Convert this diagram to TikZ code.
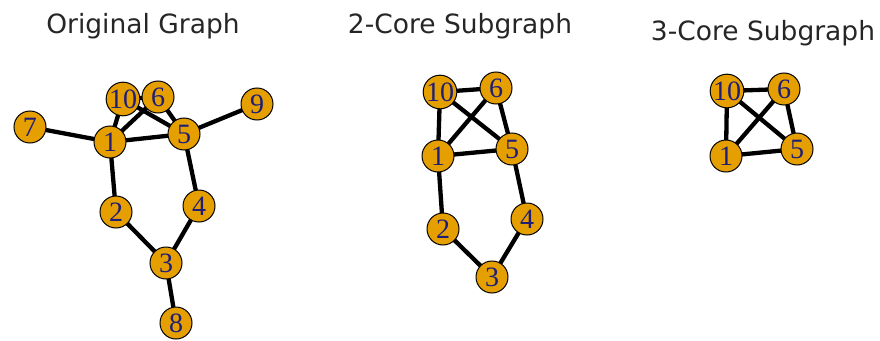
\documentclass[tikz,border=0pt]{standalone}
\usepackage{fontspec}
\setmainfont{Liberation Serif}
\newfontfamily\titlefont{DejaVu Sans}
\definecolor{nodefill}{HTML}{E69F00}
\definecolor{labelblue}{RGB}{30,30,120}
\definecolor{titlegray}{RGB}{38,38,38}
\pgfdeclarelayer{background}
\pgfsetlayers{background,main}
\begin{document}
\begin{tikzpicture}[x=1pt,y=-1pt,
  vtx/.style={circle,draw=black,line width=1pt,fill=nodefill,minimum size=32pt,
    inner sep=0pt,text=labelblue,font=\fontsize{28}{28}\selectfont},
  edge/.style={line width=4.3pt,black},
  heading/.style={anchor=base,text=titlegray,font=\titlefont\fontsize{26.5}{26.5}\selectfont}]
\useasboundingbox (0,0) rectangle (880,340);

% titles
\node[heading] (t1) at (143,33) {Original Graph};
\node[heading] (t2) at (460,33) {2-Core Subgraph};
\node[heading] (t3) at (763,40) {3-Core Subgraph};

% original graph
\node[vtx] (a7) at (30,127) {7};
\node[vtx] (a1) at (110,142) {1};
\node[vtx] (a10) at (123,99) {10};
\node[vtx] (a6) at (158,97) {6};
\node[vtx] (a5) at (184,134) {5};
\node[vtx] (a9) at (257,104) {9};
\node[vtx] (a2) at (116,212) {2};
\node[vtx] (a4) at (199,206) {4};
\node[vtx] (a3) at (166,263) {3};
\node[vtx] (a8) at (176,323) {8};
\begin{pgfonlayer}{background}
\foreach \u/\v in {a7/a1,a1/a10,a1/a6,a1/a5,a10/a5,a10/a6,a6/a5,a5/a9,a1/a2,a5/a4,a2/a3,a4/a3,a3/a8}
  \draw[edge] (\u.center) -- (\v.center);
\end{pgfonlayer}

% 2-core
\node[vtx] (b10) at (440,92) {10};
\node[vtx] (b6) at (496,88) {6};
\node[vtx] (b1) at (438,156) {1};
\node[vtx] (b5) at (512,149) {5};
\node[vtx] (b2) at (443,229) {2};
\node[vtx] (b4) at (527,219) {4};
\node[vtx] (b3) at (492,277) {3};
\begin{pgfonlayer}{background}
\foreach \u/\v in {b10/b6,b10/b1,b10/b5,b6/b1,b6/b5,b1/b5,b1/b2,b5/b4,b2/b3,b4/b3}
  \draw[edge] (\u.center) -- (\v.center);
\end{pgfonlayer}

% 3-core
\node[vtx] (c10) at (727,91) {10};
\node[vtx] (c6) at (784,89) {6};
\node[vtx] (c1) at (726,156) {1};
\node[vtx] (c5) at (797,149) {5};
\begin{pgfonlayer}{background}
\foreach \u/\v in {c10/c6,c10/c1,c10/c5,c6/c1,c6/c5,c1/c5}
  \draw[edge] (\u.center) -- (\v.center);
\end{pgfonlayer}
\end{tikzpicture}
\end{document}
